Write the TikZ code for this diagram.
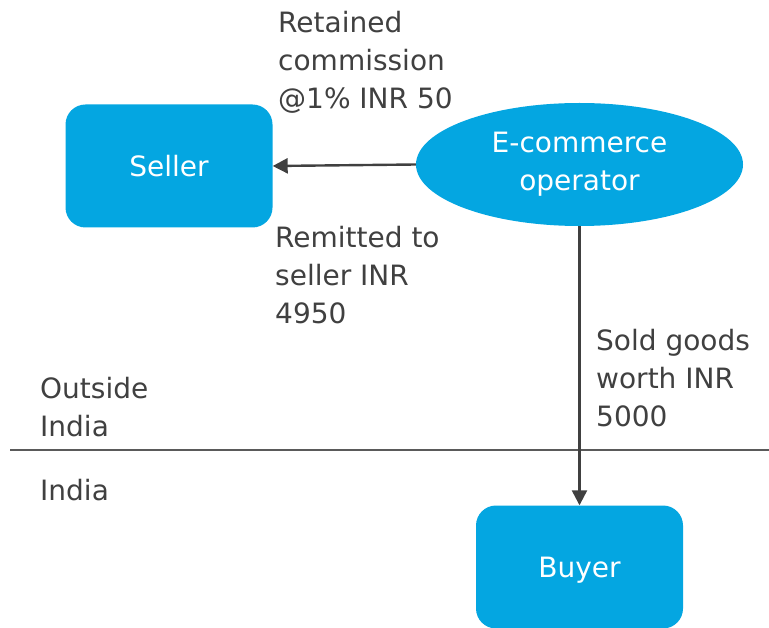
\documentclass[tikz,border=0pt]{standalone}
\usepackage{fontspec}
\setmainfont{DejaVu Sans}
\usetikzlibrary{arrows.meta,shapes.geometric}
\definecolor{boxblue}{RGB}{4,166,225}
\definecolor{inkgray}{RGB}{64,64,64}
\definecolor{rulegray}{RGB}{90,90,90}
\tikzset{
  labelfont/.style={font=\fontsize{28}{38}\selectfont},
  party/.style={draw=none, fill=boxblue, rounded corners=20pt, inner sep=0pt,
    minimum width=207pt, minimum height=123pt, text=white, text depth=0pt,
    labelfont},
  hub/.style={ellipse, draw=none, fill=boxblue, inner sep=0pt,
    minimum width=327pt, minimum height=123pt, text=white, align=center,
    labelfont},
  % multi-line notes are placed by the baseline of their last line
  note/.style={inner sep=0pt, anchor=base west, align=left, text=inkgray,
    labelfont},
  flow/.style={draw=inkgray, line width=2.4pt,
    -{Triangle[length=15pt,width=15pt]}},
}
\begin{document}
\begin{tikzpicture}[x=1pt,y=-1pt]
  \useasboundingbox (0,0) rectangle (769,628);
  % border between jurisdictions
  \draw[rulegray, line width=1.5pt] (10,450) -- (769,450);
  % parties
  \node[party] (seller) at (169,166) {Seller};
  \node[party] (buyer) at (579.5,567) {Buyer};
  \node[hub] (eco) at (579.5,164.5) {E-commerce\\operator};
  % money and goods flows
  \draw[flow] (eco.west) -- (seller.east);
  \draw[flow] (eco.south) -- (buyer.north);
  % annotations
  \node[note] (retained) at (278,109) {Retained\\commission\\@1\% INR 50};
  \node[note] (remitted) at (275,324) {Remitted to\\seller INR\\4950};
  \node[note] (sold) at (596,427) {Sold goods\\worth INR\\5000};
  \node[note] (outside) at (40,436) {Outside\\India};
  \node[note] (india) at (40,500) {India};
\end{tikzpicture}
\end{document}
